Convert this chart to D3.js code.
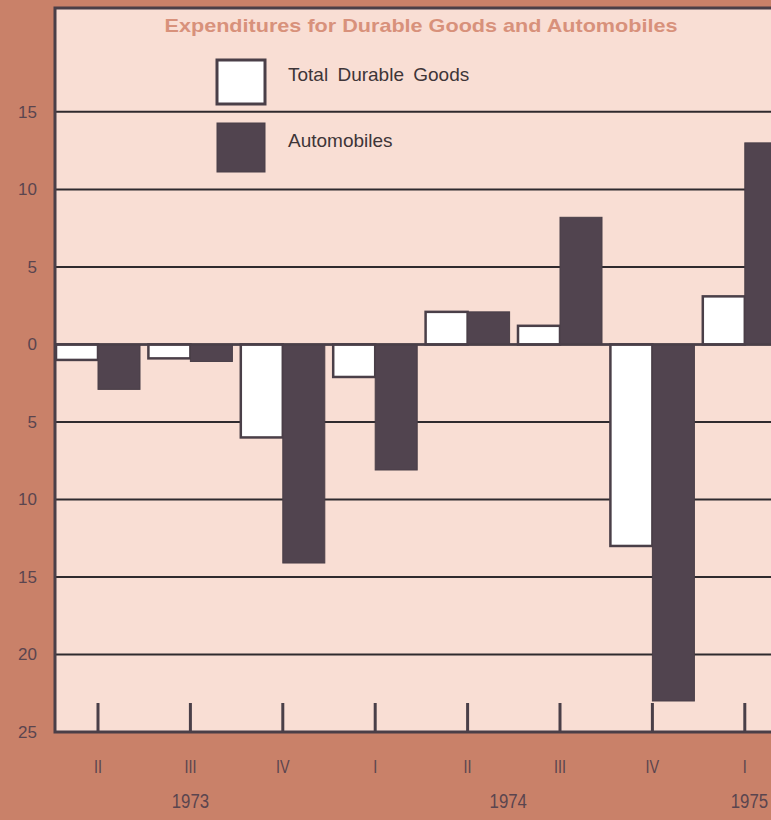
<!DOCTYPE html>
<html>
<head>
  <meta charset="utf-8">
  <title>Durable goods and automobiles</title>
  <style>
    body { margin: 0; background: #c98169; }
    svg { display: block; }
  </style>
</head>
<body>
  <div id='chart'></div>
  <script src="https://d3js.org/d3.v7.min.js"></script>
  <script>

    function translate(x, y) {
      return 'translate(' + x + ',' + y + ')';
    }

    // quarterly percent change (annual rate)
    let quarters = ['II', 'III', 'IV', 'I', 'II', 'III', 'IV', 'I'];
    let totalDurable = [-1.0, -0.9, -6.0, -2.1, 2.1, 1.2, -13.0, 3.1];
    let automobiles = [-2.9, -1.1, -14.1, -8.1, 2.1, 8.2, -23.0, 13.0];
    let yTicks = [15, 10, 5, 0, -5, -10, -15, -20, -25];
    let years = ['1973', '1974', '1975'];
    let yearAt = [1.0, 4.44, 7.05];   // in quarter units
    let seriesNames = ['Total Durable Goods', 'Automobiles'];

    let svgWidth = 771;
    let svgHeight = 820;
    let plot = {left: 55, top: 8, right: 800, bottom: 732};
    let ink = '#4a3f48';
    let barDark = '#51444f';
    let paper = '#f9ded4';
    let labelInk = '#5a454f';
    let font = 'Liberation Sans, Arial, Helvetica, sans-serif';

    let svg = d3.select('#chart')
      .append('svg')
      .attr('width', svgWidth)
      .attr('height', svgHeight);

    svg.append('rect')
      .attr('width', svgWidth)
      .attr('height', svgHeight)
      .attr('fill', '#c98169');

    let y = d3.scaleLinear()
      .domain([-25, 21.7])
      .range([plot.bottom, plot.top]);

    let x = d3.scaleBand()
      .domain(d3.range(quarters.length))
      .range([51.8, 51.8 + 92.4 * quarters.length])
      .padding(0);

    let xSub = d3.scaleBand()
      .domain([0, 1])
      .range([0, x.bandwidth()])
      .paddingOuter(0.1);

    let qx = d3.scaleLinear()
      .domain([0, 1])
      .range([x(0) + x.bandwidth() / 2, x(1) + x.bandwidth() / 2]);

    svg.append('clipPath')
      .attr('id', 'plotclip')
      .append('rect')
      .attr('x', plot.left)
      .attr('y', plot.top)
      .attr('width', plot.right - plot.left)
      .attr('height', plot.bottom - plot.top);

    svg.append('rect')
      .attr('x', plot.left)
      .attr('y', plot.top)
      .attr('width', plot.right - plot.left)
      .attr('height', plot.bottom - plot.top)
      .attr('fill', paper);

    let inner = svg.append('g').attr('clip-path', 'url(#plotclip)');

    // gridlines
    inner.selectAll('line.grid')
      .data(yTicks.filter(d => d > -25))
      .enter()
      .append('line')
      .attr('class', 'grid')
      .attr('x1', plot.left)
      .attr('x2', plot.right)
      .attr('y1', d => y(d))
      .attr('y2', d => y(d))
      .attr('stroke', '#2f2a2e')
      .attr('stroke-width', 2);

    // bars
    let series = [totalDurable, automobiles];
    let fills = ['#ffffff', barDark];
    series.forEach(function(vals, s) {
      inner.selectAll('rect.s' + s)
        .data(vals)
        .enter()
        .append('rect')
        .attr('class', 's' + s)
        .attr('x', (d, i) => x(i) + xSub(s))
        .attr('width', xSub.bandwidth())
        .attr('y', d => y(Math.max(0, d)))
        .attr('height', d => Math.abs(y(d) - y(0)))
        .attr('fill', fills[s])
        .attr('stroke', ink)
        .attr('stroke-width', s === 0 ? 2.5 : 1);
    });

    // zero line on top
    inner.append('line')
      .attr('x1', plot.left)
      .attr('x2', plot.right)
      .attr('y1', y(0))
      .attr('y2', y(0))
      .attr('stroke', ink)
      .attr('stroke-width', 2.5);

    // quarter ticks at bottom
    inner.selectAll('line.qtick')
      .data(quarters)
      .enter()
      .append('line')
      .attr('class', 'qtick')
      .attr('x1', (d, i) => qx(i))
      .attr('x2', (d, i) => qx(i))
      .attr('y1', plot.bottom - 29)
      .attr('y2', plot.bottom)
      .attr('stroke', ink)
      .attr('stroke-width', 3);

    // frame
    svg.append('path')
      .attr('d', 'M' + plot.right + ',' + plot.top + 'H' + plot.left + 'V' + plot.bottom + 'H' + plot.right)
      .attr('fill', 'none')
      .attr('stroke', ink)
      .attr('stroke-width', 3);

    // y axis labels (no minus signs)
    let yAxis = svg.append('g')
      .attr('transform', translate(37, 0))
      .call(d3.axisLeft(y).tickValues(yTicks).tickSize(0).tickFormat(d => Math.abs(d)));
    yAxis.select('.domain').remove();
    yAxis.selectAll('text')
      .attr('x', 0)
      .attr('fill', labelInk)
      .style('font-family', font)
      .style('font-size', '17px');

    // quarter labels, condensed
    svg.selectAll('text.q')
      .data(quarters)
      .enter()
      .append('text')
      .attr('class', 'q')
      .attr('transform', (d, i) => translate(qx(i), 773) + ' scale(0.8,1)')
      .attr('text-anchor', 'middle')
      .attr('fill', labelInk)
      .style('font-family', font)
      .style('font-size', '18px')
      .text(d => d);

    svg.selectAll('text.yr')
      .data(years)
      .enter()
      .append('text')
      .attr('class', 'yr')
      .attr('transform', (d, i) => translate(qx(yearAt[i]), 808) + ' scale(0.8,1)')
      .attr('text-anchor', 'middle')
      .attr('fill', labelInk)
      .style('font-family', font)
      .style('font-size', '21px')
      .text(d => d);

    // title
    svg.append('text')
      .attr('x', 421)
      .attr('y', 32)
      .attr('text-anchor', 'middle')
      .attr('fill', '#d8917b')
      .attr('textLength', 513)
      .attr('lengthAdjust', 'spacingAndGlyphs')
      .style('font-family', font)
      .style('font-weight', 'bold')
      .style('font-size', '19px')
      .text('Expenditures for Durable Goods and Automobiles');

    // legend
    let legend = svg.selectAll('g.legend')
      .data(seriesNames)
      .enter()
      .append('g')
      .attr('class', 'legend')
      .attr('transform', (d, i) => translate(217, 60 + i * 63));

    legend.append('rect')
      .attr('width', 48)
      .attr('height', (d, i) => i === 0 ? 44 : 49)
      .attr('fill', (d, i) => fills[i])
      .attr('stroke', ink)
      .attr('stroke-width', (d, i) => i === 0 ? 3 : 1);

    legend.append('text')
      .attr('x', 71)
      .attr('y', (d, i) => i === 0 ? 21 : 24)
      .attr('fill', '#3e3538')
      .style('font-family', font)
      .style('font-size', '19px')
      .style('word-spacing', '4px')
      .text(d => d);

  </script>
</body>
</html>
